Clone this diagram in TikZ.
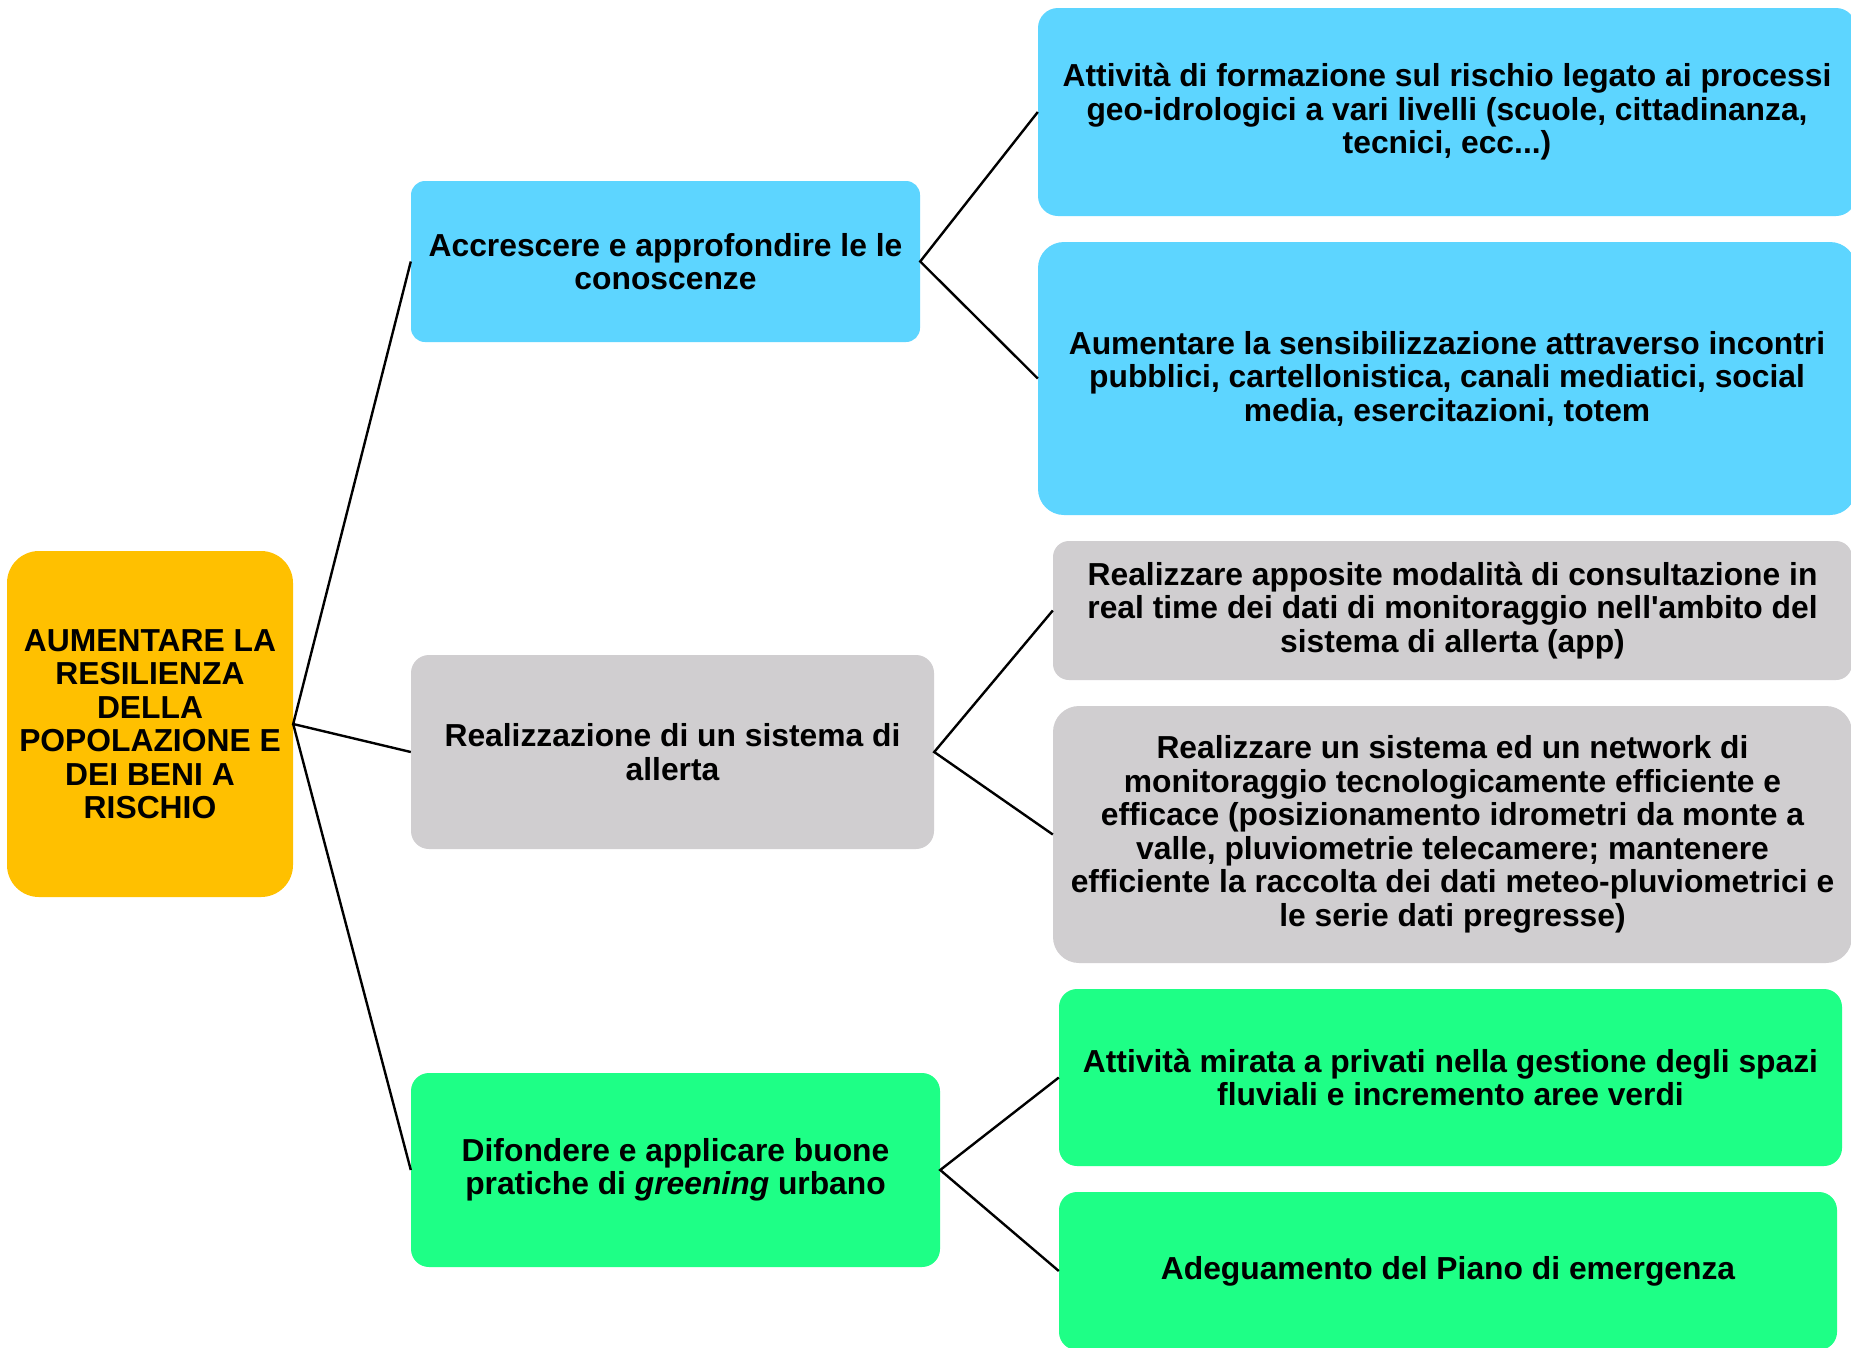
\documentclass[tikz,border=0pt]{standalone}
\usepackage{fontspec}
\newfontfamily\lib{Liberation Sans}
\definecolor{cblue}{HTML}{5DD5FF}
\definecolor{cgray}{HTML}{D0CED0}
\definecolor{cgreen}{HTML}{1EFF86}
\definecolor{cgold}{HTML}{FFC000}
\tikzset{
  box/.style={rectangle, inner sep=0pt, align=center, text=black,
    font=\lib\fontsize{31.8}{33.5}\selectfont\bfseries},
  link/.style={draw=black, line width=2.4pt}
}
\begin{document}
\begin{tikzpicture}[x=1pt,y=-1pt]
\clip (0,0) rectangle (1851,1347);
\fill[white] (0,0) rectangle (1851,1347);

\node[box, fill=cgold, rounded corners=32pt, minimum width=286pt, minimum height=346pt] (root) at (150,724)
  {AUMENTARE LA\\RESILIENZA\\DELLA\\POPOLAZIONE E\\DEI BENI A\\RISCHIO};

\node[box, fill=cblue, rounded corners=14pt, minimum width=509pt, minimum height=161pt] (A) at (665.5,261.5)
  {Accrescere e approfondire le le\\conoscenze};
\node[box, fill=cgray, rounded corners=18pt, minimum width=523pt, minimum height=194pt] (B) at (672.5,752)
  {Realizzazione di un sistema di\\allerta};
\node[box, fill=cgreen, rounded corners=18pt, minimum width=529pt, minimum height=194pt] (C) at (675.5,1170)
  {Difondere e applicare buone\\pratiche di \textit{greening} urbano};

\node[box, fill=cblue, rounded corners=20pt, minimum width=818pt, minimum height=208pt] (R1) at (1447,112)
  {Attività di formazione sul rischio legato ai processi\\geo-idrologici a vari livelli (scuole, cittadinanza,\\tecnici, ecc...)};
\node[box, fill=cblue, rounded corners=26pt, minimum width=818pt, minimum height=273pt] (R2) at (1447,378.5)
  {Aumentare la sensibilizzazione attraverso incontri\\pubblici, cartellonistica, canali mediatici, social\\media, esercitazioni, totem};
\node[box, fill=cgray, rounded corners=16pt, minimum width=799pt, minimum height=139pt] (R3) at (1452.5,610.5)
  {Realizzare apposite modalità di consultazione in\\real time dei dati di monitoraggio nell'ambito del\\sistema di allerta (app)};
\node[box, fill=cgray, rounded corners=26pt, minimum width=799pt, minimum height=257pt] (R4) at (1452.5,834.5)
  {Realizzare un sistema ed un network di\\monitoraggio tecnologicamente efficiente e\\efficace (posizionamento idrometri da monte a\\valle, pluviometrie telecamere; mantenere\\efficiente la raccolta dei dati meteo-pluviometrici e\\le serie dati pregresse)};
\node[box, fill=cgreen, rounded corners=18pt, minimum width=783pt, minimum height=177pt] (R5) at (1450.5,1077.5)
  {Attività mirata a privati nella gestione degli spazi\\fluviali e incremento aree verdi};
\node[box, fill=cgreen, rounded corners=18pt, minimum width=778pt, minimum height=158pt] (R6) at (1448,1271)
  {Adeguamento del Piano di emergenza};

\draw[link] (A.west) -- (root.east) -- (B.west);
\draw[link] (root.east) -- (C.west);
\draw[link] (R1.west) -- (A.east) -- (R2.west);
\draw[link] (R3.west) -- (B.east) -- (R4.west);
\draw[link] (R5.west) -- (C.east) -- (R6.west);
\end{tikzpicture}
\end{document}
